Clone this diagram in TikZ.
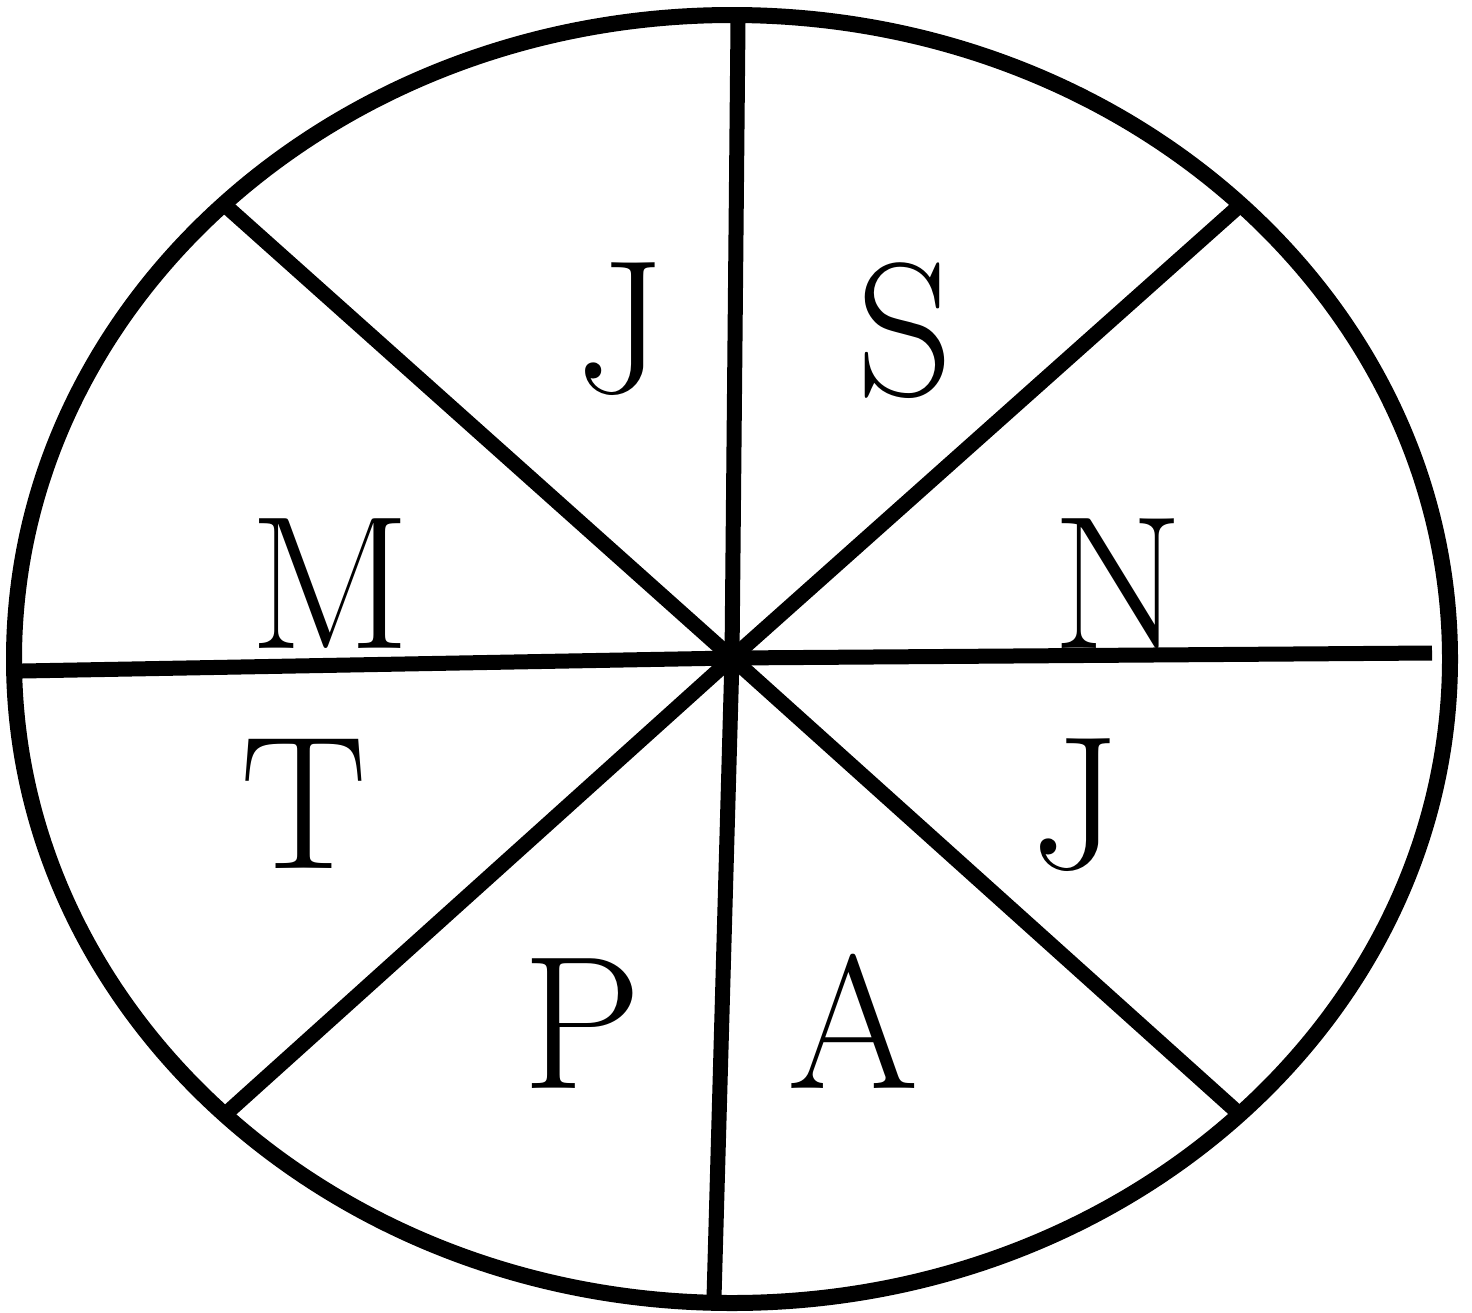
\documentclass[tikz,border=0pt]{standalone}
\begin{document}
\begin{tikzpicture}[x=1pt,y=-1pt,
  spoke/.style={line width=15pt},
  rim/.style={line width=16pt},
  lab/.style={anchor=base,inner sep=0pt,font=\fontsize{190}{200}\selectfont}]
\useasboundingbox (0,0) rectangle (1472,1312);
\draw[rim] (732,659) ellipse [x radius=718, y radius=644];
\coordinate (c) at (732,658);
\coordinate (top) at (738,22);
\coordinate (bot) at (714,1298);
\coordinate (lft) at (22,671);
\coordinate (rgt) at (1432,653);
\coordinate (ul) at (227,207);
\coordinate (ur) at (1238,207);
\coordinate (ll) at (230,1110);
\coordinate (lr) at (1235,1110);
\draw[spoke] (c) -- (top);
\draw[spoke] (c) -- (bot);
\draw[spoke] (c) -- (lft);
\draw[spoke] (c) -- (rgt);
\draw[spoke] (c) -- (ul);
\draw[spoke] (c) -- (ur);
\draw[spoke] (c) -- (ll);
\draw[spoke] (c) -- (lr);
\node[lab] (j1) at (620,392) {J};
\node[lab] (s) at (905,395) {S};
\node[lab] (m) at (330,648) {M};
\node[lab] (n) at (1118,648) {N};
\node[lab] (t) at (304,868) {T};
\node[lab] (j2) at (1075,868) {J};
\node[lab] (p) at (582,1088) {P};
\node[lab] (a) at (853,1088) {A};
\end{tikzpicture}
\end{document}
